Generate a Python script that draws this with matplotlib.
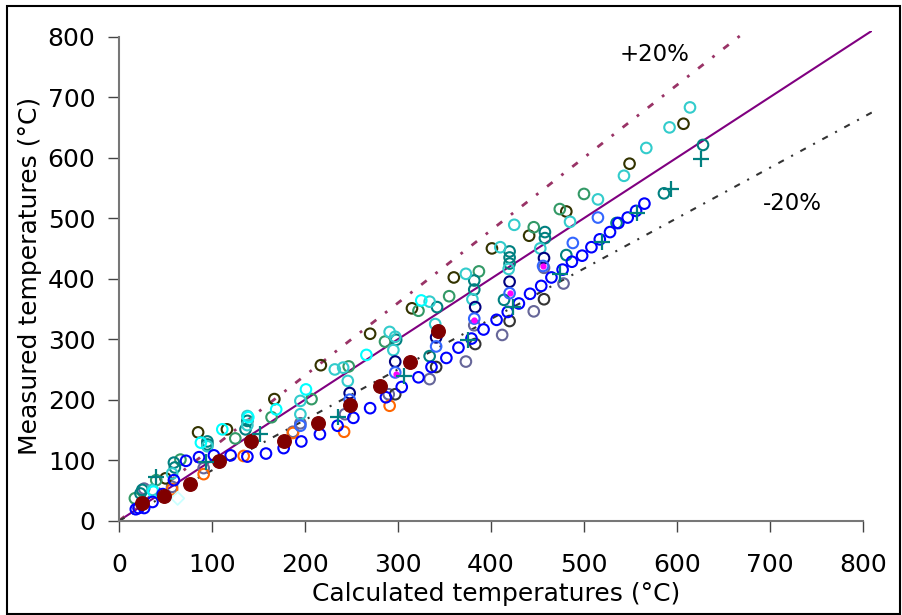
import matplotlib
matplotlib.use('Agg')
import matplotlib.pyplot as plt
from matplotlib.patches import Rectangle

plt.rcParams['font.family'] = ['DejaVu Sans']

# calculated (x) vs measured (y) temperatures, one pair of lists per series
blue_x = [18, 21, 27, 36, 47, 59, 72, 86, 102, 120, 138, 158, 177, 196, 216, 235, 252, 270, 287,
          304, 322, 336, 352, 365, 379, 392, 406, 418, 430, 442, 454, 465, 477, 487, 498, 508, 517,
          528, 537, 547, 556, 565]
blue_y = [19, 21, 21, 31, 44, 67, 99, 105, 108, 108, 106, 111, 120, 131, 143, 157, 170, 186, 204,
          221, 237, 254, 269, 286, 301, 316, 332, 345, 359, 375, 388, 402, 415, 428, 438, 452, 465,
          477, 492, 501, 512, 524]

maroon_x = [25, 48, 76, 108, 142, 177, 214, 248, 281, 313, 343]
maroon_y = [29, 41, 61, 98, 131, 131, 161, 191, 223, 263, 313]

orange_x = [57, 91, 134, 187, 242, 291]
orange_y = [52, 77, 107, 145, 147, 190]

turq_x = [36, 57, 95, 138, 138, 195, 195, 232, 241, 246, 291, 295, 297, 334, 340, 373, 380, 410,
          419, 425, 453, 485, 515, 543, 567, 592, 614]
turq_y = [51, 78, 123, 173, 158, 198, 176, 250, 253, 231, 312, 282, 304, 362, 325, 408, 366, 452,
          416, 489, 450, 494, 531, 570, 616, 650, 683]

cyan_x = [37, 88, 111, 139, 169, 201, 266, 325]
cyan_y = [48, 129, 151, 171, 184, 217, 274, 364]

seagreen_x = [17, 40, 66, 125, 164, 207, 247, 286, 322, 355, 387, 446, 474, 500]
seagreen_y = [37, 67, 101, 136, 171, 201, 255, 296, 347, 371, 412, 485, 515, 540]

olive_x = [50, 85, 116, 167, 217, 270, 315, 360, 401, 441, 481, 549, 607]
olive_y = [70, 146, 151, 201, 257, 309, 351, 402, 450, 471, 511, 590, 656]

teal_x = [23, 25, 59, 60, 95, 95, 136, 138, 298, 334, 342, 382, 382, 414, 420, 420, 420, 458, 458,
          481, 535, 586, 628]
teal_y = [45, 51, 96, 88, 131, 126, 151, 165, 299, 272, 353, 397, 382, 365, 445, 435, 425, 477, 467,
          439, 492, 541, 621]

navy_x = [248, 297, 341, 383, 420, 457]
navy_y = [211, 263, 303, 353, 395, 434]

royal_x = [195, 248, 297, 341, 382, 420, 456, 488, 515]
royal_y = [157, 200, 245, 288, 334, 376, 421, 459, 501]

magenta_x = [298, 382, 420, 456]
magenta_y = [243, 331, 376, 421]

slate_x = [27, 57, 91, 187, 195, 243, 290, 334, 373, 382, 412, 446, 457, 478]
slate_y = [53, 56, 87, 147, 161, 176, 209, 234, 263, 323, 307, 346, 418, 392]

gray_x = [297, 341, 383, 420, 457]
gray_y = [209, 254, 292, 330, 366]

plus_x = [40, 94, 152, 235, 306, 375, 424, 474, 519, 557, 594, 626]
plus_y = [72, 97, 144, 172, 239, 299, 354, 407, 461, 509, 549, 597]

light_x = [63]
light_y = [37]

fig = plt.figure(figsize=(9.02, 6.15), dpi=100)
ax = fig.add_axes([0.132, 0.1533, 0.835, 0.797])

# reference lines
line_end = 810
ax.plot([0, line_end], [0, line_end], color='#800080', lw=1.5, zorder=1)
ax.plot([0, line_end / 1.2], [0, line_end], color='#993366', lw=2,
        linestyle=(0, (2.5, 4, 1, 4)), zorder=1)
ax.plot([0, line_end], [0, line_end / 1.2], color='#333333', lw=1.5,
        linestyle=(0, (3, 4, 1, 4)), zorder=1)

open_series = [
    (slate_x, slate_y, '#666699'),
    (gray_x, gray_y, '#333333'),
    (olive_x, olive_y, '#333300'),
    (seagreen_x, seagreen_y, '#339966'),
    (teal_x, teal_y, '#008080'),
    (turq_x, turq_y, '#33CCCC'),
    (cyan_x, cyan_y, '#00FFFF'),
    (orange_x, orange_y, '#FF6600'),
    (navy_x, navy_y, '#000080'),
    (royal_x, royal_y, '#3366FF'),
    (blue_x, blue_y, '#0000FF'),
]
for xs, ys, c in open_series:
    ax.scatter(xs, ys, s=58, facecolors='none', edgecolors=c, linewidths=1.5, zorder=3)

ax.scatter(light_x, light_y, s=45, marker='D', facecolors='none', edgecolors='#CCFFFF',
           linewidths=1.3, zorder=3)
ax.scatter(magenta_x, magenta_y, s=12, color='#FF00FF', zorder=4)
ax.scatter(maroon_x, maroon_y, s=95, color='#800000', zorder=4)
ax.scatter(plus_x, plus_y, s=120, marker='+', color='#008080', linewidths=1.6, zorder=4)

ax.text(576, 770, '+20%', fontsize=16.5, ha='center', va='center')
ax.text(724, 525, '-20%', fontsize=16.5, ha='center', va='center')

ax.set_xlim(0, 810)
ax.set_ylim(0, 810)
ax.set_xticks(range(0, 801, 100))
ax.set_yticks(range(0, 801, 100))
ax.spines['top'].set_visible(False)
ax.spines['right'].set_visible(False)
ax.spines['bottom'].set_bounds(0, 800)
ax.spines['left'].set_bounds(0, 800)
for s in ['bottom', 'left']:
    ax.spines[s].set_color('#777777')
    ax.spines[s].set_linewidth(1.5)
ax.tick_params(axis='both', direction='out', length=8, width=1, color='#444444', labelsize=18)
ax.tick_params(axis='x', pad=15)
ax.tick_params(axis='y', pad=9)
ax.set_xlabel('Calculated temperatures (°C)', fontsize=18, labelpad=4)
ax.set_ylabel('Measured temperatures (°C)', fontsize=18, labelpad=4)

# outer frame
fig.patches.append(Rectangle((0.008, 0.002), 0.99, 0.988, transform=fig.transFigure,
                             fill=False, edgecolor='black', linewidth=1.5))

fig.savefig('out.png', dpi=100)
